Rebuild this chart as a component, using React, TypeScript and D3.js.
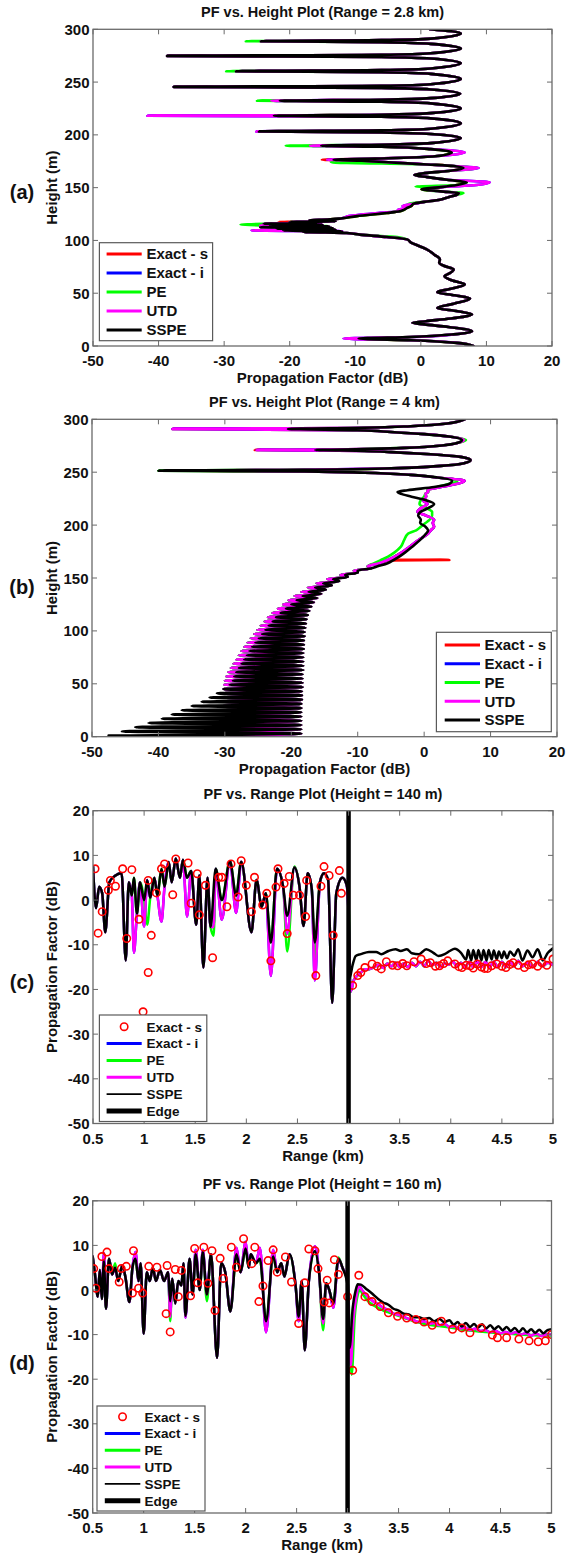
import React from "react";
import * as d3 from "d3";

// (a) PF vs. Height, Range = 2.8 km.  points are [height (m), PF (dB)]
const aSSPE = [
  [0, 8], [3, 5.5], [5.5, -1.5], [7, -9.5], [8.5, -1.5], [11, 5], [14, 7.8], [18, 4.2], [20.5, 0.5], [22, -1.3],
  [23.5, 0.8], [26, 4.5], [30, 7.8], [33, 5.6], [36, 2.5], [40, 5], [45, 7.5], [48, 5.2], [51, 2.5], [54, 4.4],
  [58.3, 6.7], [62, 4.8], [66, 3.6], [69, 4.4], [72.5, 5], [76, 3.5], [78.8, 2.8], [82, 2.9], [86.7, 2], [91.6, 0.9],
  [94.5, -0.2], [98, -1.5], [101, -2.1], [103.3, -5.2], [105.5, -9.3], [107, -11.3], [108, -18], [108.7, -12],
  [109.5, -21], [110.3, -13], [111, -22], [111.8, -13.5], [112.6, -24.5], [113.4, -14], [114.2, -23], [115, -15],
  [115.8, -24], [116.6, -16], [117.4, -20], [118.2, -13], [119, -17], [119.7, -14.3], [121, -12], [123, -9.8],
  [126, -5.2], [127.6, -3.2], [129, -2.6], [130.8, -2.1], [132.5, -1.5], [134.8, -1.1], [136.5, 0.5], [138.6, 2.9],
  [141, 4.2], [143.3, 5.5], [145, 5.8], [146.5, 3], [148.6, 0.1], [150.5, 3], [152.5, 5.5], [155, 7], [157.5, 4],
  [160, 1], [162, -1], [164, 1], [166, 4.5], [168.6, 6.5], [170.5, 5], [172, 1], [174, -5], [175.5, -9],
  [176.5, -13.3], [177.5, -7], [178.5, -1.5], [180, 2.5], [183.4, 4.7], [186.5, 1.5], [188.7, -6], [189.7, -15.2],
  [190.7, -6], [192.2, 1.5], [197, 6.1],
  [200.8, 1.5], [202.3, -6], [203.3, -24.7], [204.3, -6], [205.8, 1.5], [211, 6.1],
  [215.6, 1.5], [217.1, -6], [218.1, -22.4], [219.1, -6], [220.6, 1.5], [225, 6.1],
  [229.8, 1.5], [231.3, -6], [232.3, -21.5], [233.3, -6], [234.8, 1.5], [239, 6],
  [243, 1.5], [244.5, -6], [245.5, -37.7], [246.5, -6], [248, 1.5], [253, 6.1],
  [257.8, 1.5], [259.3, -6], [260.3, -28.2], [261.3, -6], [262.8, 1.5], [268, 6.1],
  [272.3, 1.5], [273.8, -6], [274.8, -38.7], [275.8, -6], [277.3, 1.5], [281.8, 6.1],
  [286.2, 1.5], [287.7, -6], [288.7, -24.4], [289.7, -6], [291.2, 1.5], [296, 6.1], [300, 1.4],
];
// where the other methods differ from SSPE
const aPEChanges = [
  [288.7, -26.7], [260.3, -29.7], [232.3, -25], [189.7, -20.6], [174, -13.7], [168.6, 8.5],
  [151, -0.8], [145, 6.5], [134.8, -1.9], [115, -27.5], [103.3, -3.6],
];
const aUTDChanges = [
  [232.3, -22.8], [218.1, -41.7], [203.3, -25.1], [189.7, -16.9], [183.4, 6.7], [176.5, -14.3],
  [168.6, 8.8], [155, 10.5], [152.5, 8.5], [148.6, 0.8], [132.5, -2.8], [129, -3.5], [126, -6.5],
  [123, -11], [116.6, -19], [114.2, -24.5], [109.5, -25.8], [7, -11.8],
];
const aExactSChanges = [[176.5, -15.1], [117.4, -21.7]];

// (b) PF vs. Height, Range = 4 km
const bSSPE = [
  [1, -47.5], [3, -18.5], [5, -45.5], [7, -18.5], [9, -43.5], [11, -18.5], [13, -41.5], [15, -18.5],
  [17, -39.5], [19, -18.5], [21, -38], [23, -18.5], [25, -36.5], [27, -18.5], [29, -35], [31, -18.5],
  [33, -33.5], [35, -18.4], [37, -32.3], [39, -18.4], [41, -31.2], [43, -18.4], [45, -30.2], [47, -18.3],
  [49, -29.3], [51, -18.3], [53, -28.8], [55, -18.3], [57, -28.6], [59, -18.3], [61, -28.3], [63, -18.2],
  [65, -27.9], [67, -18.2], [69, -27.5], [71, -18.2], [73, -27.1], [75, -18.2], [77, -26.7], [79, -18.2],
  [81, -26.3], [83, -18.1], [85, -25.9], [87, -18.1], [89, -25.4], [91, -18.1], [93, -24.9], [95, -18],
  [97, -24.4], [99, -18], [101, -23.9], [103, -17.9], [105, -23.4], [107, -17.8], [109, -22.8], [111, -17.7],
  [113, -22.3], [115, -17.5], [117, -21.6], [119, -17.3], [121, -20.8], [123, -17], [125, -20], [127, -16.6],
  [129, -19.2], [131, -16.1], [133, -18.3], [135, -15.5], [137, -17.4], [139, -14.8], [141, -16.4], [143, -13.9],
  [145, -15.2], [147, -12.8], [149, -13.7], [151, -11.5], [153, -11.9], [155, -10], [157, -10], [159, -8],
  [161, -7], [164, -5.5], [167, -4.6], [170, -3.8], [174, -2.9], [179.6, -1.8], [186, -0.6], [192, 0.3],
  [195, 0.6], [198.5, 0.2], [202, -0.6], [205, -0.5], [209, -0.9], [212.7, -0.5], [216, 0.6], [220, 1.5],
  [223.5, 0.3], [226.9, -1.9], [229.5, -3.5], [231.3, -4], [233, -2.5], [236, 1.5], [239, 3.8], [242, 4.2],
  [245, 2], [247.5, -2], [249.5, -9], [250.7, -18], [251.5, -40], [252.3, -18], [253.5, -6], [256, 2.5],
  [258.5, 6], [261.5, 7], [264.5, 5.5], [267, 1], [269, -5], [270.2, -9], [271, -16.4], [271.8, -9],
  [273, -3], [275.5, 3], [278, 5.2], [280.5, 5.7], [283.5, 4], [286, 0], [288, -5], [289.7, -10],
  [290.9, -20.5], [292, -9], [293.5, -2], [296, 3.5], [300, 6.1],
];
const bUTDNulls = [
  [1, -29], [5, -29.5], [9, -30], [13, -30], [17, -30], [21, -30.2], [25, -30.2], [29, -30.3], [33, -30.3],
  [37, -30.3], [41, -30.3], [45, -30.2], [49, -30.1], [53, -30], [57, -29.8], [61, -29.5], [65, -29.1],
  [69, -28.7], [73, -28.3], [77, -27.9], [81, -27.5], [85, -27.1], [89, -26.6], [93, -26.1], [97, -25.6],
  [101, -25.1], [105, -24.6], [109, -24], [113, -23.5], [117, -22.8], [121, -22], [125, -21.2], [129, -20.4],
  [133, -19.5], [137, -18.5], [141, -17.5], [145, -16.2], [149, -14.6], [153, -12.6], [157, -10.6],
];
const bUTDChanges = [
  [290.9, -37.9], [271, -25.2], [251.5, -31.7], [280.5, 6], [242, 6.1], [239, 5], [236, 2.5], [233, 0.5],
  [231.3, 0.6], [229.5, 0.2], [226.9, 0.3], [223.5, -0.2], [220, 0.5], [216, -0.5], [212.7, -1], [209, 0.3],
  [205, 1.5], [202, 1.3], [198.5, 1.5], [195, 1], [192, 0.6], [186, -0.8], [179.6, -2.2], [174, -3.4],
  [170, -4.5], [167, -5.5], [164, -6.8], [161, -8.5],
];
const bPEChanges = [
  [280.5, 6.3], [242, 5], [236, 2], [233, 0.5], [231.3, 0.6], [229.5, 0.2], [226.9, 0], [223.5, -0.5],
  [220, -0.7], [216, 0.3], [212.7, 1.2], [209, 1.2], [205, 0.8], [202, 0.2], [198.5, -0.5], [195, -1.2],
  [192, -2.4], [186, -3], [179.6, -3.5], [174, -4.5], [170, -5.5], [167, -6.5], [164, -7.5], [161, -8.5],
];
const bExactSChanges = [[271, -25.5], [251.5, -34], [166.6, -5.3], [167, 3.8], [167.4, -5.1]];

// (c) PF vs. Range, Height = 140 m.  points are [range (km), PF (dB)]
const cSSPE = [
  [0.5, 7.5], [0.53, -1.8], [0.56, 3], [0.59, 1.5], [0.62, -7.2], [0.66, 4], [0.72, 5.5], [0.78, 6],
  [0.82, -13.5], [0.85, 4], [0.88, 1], [0.9, 5], [0.93, -3], [0.96, 4], [1, 0], [1.03, 4.5], [1.06, 0.5],
  [1.1, 5], [1.13, 1], [1.17, 7], [1.2, 3], [1.24, 8.5], [1.27, 4], [1.31, 9.3], [1.35, 5], [1.38, 9],
  [1.42, 5], [1.46, 6.5], [1.51, -5.5], [1.54, 5.5], [1.58, -15.1], [1.62, 5], [1.65, -6], [1.7, 7],
  [1.76, 0], [1.84, 8.7], [1.9, 1], [1.95, 8.6], [2.05, -7.2], [2.1, 4.5], [2.15, -1.5], [2.19, 1.5],
  [2.24, -9.5], [2.3, 7], [2.36, 3], [2.4, -3.5], [2.47, 7.3], [2.52, 3], [2.56, -5.8], [2.6, 6],
  [2.64, 2.5], [2.67, -9.5], [2.72, 4], [2.76, 6], [2.8, 4.5], [2.84, -23], [2.88, 1.5], [2.94, 5],
  [2.98, 3.5], [3, 0],
  [3.01, -17.5], [3.04, -14.5], [3.07, -12.5], [3.12, -12.1], [3.2, -11.6], [3.27, -11.6], [3.32, -12.1],
  [3.39, -11.4], [3.46, -11], [3.51, -11.4], [3.57, -11], [3.62, -11.9], [3.69, -12.1], [3.76, -11],
  [3.83, -11.8], [3.88, -12.5], [3.94, -12.1], [3.99, -11.4], [4.04, -10.9], [4.1, -11.8], [4.15, -13.3],
  [4.17, -11.2], [4.2, -13.5], [4.22, -11.2], [4.25, -13.5], [4.27, -11.2], [4.3, -13.5], [4.32, -11.2],
  [4.35, -13.5], [4.37, -11.2], [4.4, -13.3], [4.42, -11.3], [4.45, -13.3], [4.47, -11.5], [4.5, -13],
  [4.52, -11.5], [4.55, -13], [4.58, -11.5], [4.62, -12.5], [4.66, -11], [4.7, -13.5], [4.75, -11.3],
  [4.8, -12.8], [4.85, -11], [4.9, -13.5], [4.95, -11.8], [5, -10.8],
];
const cPEChanges = [[1.03, -5.5], [1.68, -8], [2.4, -11.5], [2.47, 7.5], [2.67, -13]];
const cUTDChanges = [
  [0.9, -11.8], [1, -5.9], [1.17, -4.8], [1.42, -3.7], [1.68, -6], [1.76, -4.4], [1.9, -2.9],
  [2.24, -17], [2.4, -7.5], [2.67, -18], [3, -3],
];
const cUTDPost = [
  [3.02, -20.5], [3.05, -18], [3.08, -17], [3.12, -16.2], [3.16, -15.5], [3.2, -15.5], [3.25, -15],
  [3.3, -14.5], [3.34, -15.2], [3.38, -14.2], [3.42, -14.8], [3.46, -14], [3.5, -15], [3.54, -14.2],
  [3.58, -15], [3.62, -14], [3.66, -14.8], [3.7, -13.8], [3.74, -14.8], [3.78, -13.6], [3.82, -14.6],
  [3.86, -14], [3.9, -15], [3.94, -14.2], [3.98, -14.5], [4.02, -13.8], [4.06, -14.8], [4.1, -14],
  [4.14, -15], [4.18, -13.8], [4.22, -15], [4.26, -13.8], [4.3, -15], [4.34, -13.8], [4.38, -15],
  [4.42, -13.8], [4.46, -15], [4.5, -13.8], [4.54, -15], [4.58, -13.8], [4.62, -14.8], [4.66, -13.6],
  [4.7, -14.8], [4.75, -14], [4.8, -15], [4.85, -13.8], [4.9, -14.8], [4.95, -14], [5, -14.5],
];
const cExactS = [
  [0.52, 7], [0.55, -7.4], [0.59, -2.6], [0.65, 2.2], [0.67, 4.4], [0.72, 3.1], [0.79, 7], [0.83, -8.6],
  [0.88, 6.8], [0.95, -4.3], [0.99, -25], [1.04, -16.2], [1.04, 4.4], [1.07, -7.9], [1.12, 1.6], [1.17, 7],
  [1.2, 8.1], [1.28, 1.2], [1.31, 9.2], [1.43, 8.3], [1.46, -0.7], [1.52, 5.9], [1.54, -3.3], [1.6, 3.3],
  [1.67, -12.9], [1.73, 5.1], [1.76, 5.1], [1.81, -1.5], [1.85, 8.1], [1.92, 0.7], [1.95, 8.8], [2, 3.3],
  [2.05, -2.6], [2.08, 5.1], [2.16, -1.1], [2.2, 1.5], [2.24, -13.6], [2.29, 2.9], [2.31, 7], [2.37, 3.7],
  [2.4, -7.5], [2.42, 5.3], [2.46, 1.1], [2.52, 1.1], [2.58, -3.7], [2.59, 4.4], [2.68, -16.9], [2.73, 3.1],
  [2.76, 7.5], [2.81, 5.5], [2.85, -7.9], [2.91, 6.6], [2.93, 1.5],
  [3.04, -19.1], [3.09, -16.9], [3.12, -16.2], [3.16, -15.1], [3.23, -14.3], [3.28, -14.8], [3.32, -15.4],
  [3.37, -13.8], [3.43, -14.6], [3.48, -14.7], [3.53, -14.2], [3.57, -14.7], [3.64, -13.8], [3.71, -13.2],
  [3.76, -14.2], [3.8, -14], [3.85, -14.8], [3.89, -14.7], [3.93, -14.2], [3.97, -13.6], [4.04, -14.3],
  [4.08, -14.9], [4.11, -15.1], [4.15, -14.6], [4.19, -14.7], [4.22, -15.2], [4.26, -14.3], [4.3, -15],
  [4.33, -15.3], [4.36, -15.3], [4.4, -14.7], [4.45, -14.3], [4.5, -14.8], [4.54, -15.1], [4.58, -14.4],
  [4.61, -14], [4.66, -14.6], [4.72, -15.1], [4.76, -14.5], [4.8, -14.3], [4.85, -14.8], [4.89, -14],
  [4.94, -14.6], [5, -13.2],
];

// (d) PF vs. Range, Height = 160 m
const dSSPE = [
  [0.5, 7.5], [0.52, 4], [0.55, -1.5], [0.57, 4.5], [0.59, -2], [0.61, 6.5], [0.63, -4.2], [0.66, 7],
  [0.69, 3.5], [0.72, 5], [0.75, 2], [0.79, 5.5], [0.82, 3], [0.86, -2.7], [0.89, 5], [0.92, 7], [0.95, 2],
  [0.97, 6], [1, -9.8], [1.03, 4], [1.06, 2], [1.09, 5], [1.12, 2], [1.16, 4.5], [1.2, 2], [1.24, 4],
  [1.26, -2.5], [1.28, 2.5], [1.31, -3], [1.34, 2], [1.37, 1], [1.39, 6], [1.41, -5.8], [1.45, 7],
  [1.48, -1], [1.51, 8], [1.55, 0], [1.58, 8.5], [1.62, -1], [1.66, 8], [1.72, -15.2], [1.76, 6], [1.8, 4],
  [1.85, -4.8], [1.91, 8], [1.95, 4], [2, 9.3], [2.03, 5], [2.05, 8], [2.1, 6], [2.14, 7], [2.2, -7],
  [2.27, 7.5], [2.31, 4], [2.35, 6], [2.38, 3], [2.43, 8], [2.49, 1], [2.52, -6], [2.55, 2], [2.58, -13.5],
  [2.62, 2], [2.68, 8.7], [2.72, 4], [2.76, -6.5], [2.79, 1.5], [2.82, 0], [2.86, -3], [2.91, 7], [2.95, 5],
  [3, 1],
  [3.02, -13], [3.05, -4], [3.08, 0], [3.1, 1.3], [3.13, 1.2], [3.18, 0.3], [3.24, -0.8], [3.3, -2],
  [3.35, -2.8], [3.4, -3.3], [3.45, -4.2], [3.5, -4.6], [3.55, -5.3], [3.6, -5.5], [3.65, -6.1], [3.7, -6.1],
  [3.75, -6.5], [3.8, -6.3], [3.85, -7], [3.9, -6.5], [3.95, -7.2], [4, -6.8], [4.04, -7.8], [4.08, -7.2],
  [4.12, -8.2], [4.16, -7.4], [4.2, -8.3], [4.24, -7.6], [4.28, -8.4], [4.32, -7.7], [4.36, -8.6], [4.4, -7.9],
  [4.44, -8.8], [4.48, -8.1], [4.52, -9], [4.56, -8.3], [4.6, -9.2], [4.64, -8.5], [4.68, -9.4], [4.72, -8.6],
  [4.76, -9.5], [4.8, -8.8], [4.84, -9.6], [4.88, -8.9], [4.92, -9.7], [4.96, -9], [5, -8.8],
];
const dPEChanges = [[0.72, 6], [1.26, -7], [1.62, -2.5], [2.76, -9], [2.91, 7.3], [3, 2]];
const dUTDChanges = [
  [0.61, 8.3], [0.92, 8.5], [1.26, -6], [1.41, -6.2], [1.51, 9], [1.58, 9], [1.91, 9.5], [2, 10.8],
  [2.14, 9.5], [2.2, -9.5], [2.27, 9], [2.52, -7], [2.68, 9.8], [2.76, -7.5], [2.86, -4], [3, 2],
];
const dUTDPost = [
  [3.03, -17], [3.06, -6], [3.09, -1], [3.11, 1], [3.14, 0], [3.2, -1.5], [3.25, -2.5], [3.3, -3.2],
  [3.35, -4], [3.4, -4.5], [3.45, -5.3], [3.5, -5.6], [3.55, -6], [3.6, -6.5], [3.65, -6.8], [3.7, -7.2],
  [3.75, -7], [3.8, -7.6], [3.85, -7.4], [3.9, -7.9], [3.95, -7.6], [4, -8.3], [4.05, -8.1], [4.1, -8.7],
  [4.15, -8.4], [4.2, -9], [4.25, -8.7], [4.3, -9.2], [4.35, -9], [4.4, -9.5], [4.45, -9.2], [4.5, -9.7],
  [4.55, -9.4], [4.6, -9.8], [4.65, -9.5], [4.7, -10], [4.75, -9.7], [4.8, -10.2], [4.85, -9.8], [4.9, -10.3],
  [4.95, -10], [5, -10],
];
const dPEPost = [
  [3.04, -19], [3.07, -6], [3.1, -1], [3.12, 0], [3.15, -1], [3.2, -2.5], [3.25, -3.4], [3.3, -4],
  [3.35, -4.6], [3.4, -5], [3.5, -5.8], [3.6, -6.6], [3.7, -7.3], [3.8, -7.8], [3.9, -8.1], [4, -8.4],
  [4.1, -8.8], [4.2, -9.1], [4.3, -9.3], [4.4, -9.5], [4.5, -9.7], [4.6, -9.8], [4.7, -10], [4.8, -10.1],
  [4.9, -10.2], [5, -10.2],
];
const dExactS = [
  [0.51, 4.8], [0.53, 0.4], [0.59, 7.5], [0.64, 8.5], [0.66, 4.8], [0.76, 1.8], [0.78, 4.8], [0.83, 5.3],
  [0.89, -0.7], [0.9, 8.8], [0.95, 0.4], [0.99, -0.7], [1.05, 5.3], [1.13, 5.1], [1.22, -5.3], [1.23, 5.5],
  [1.26, -9.4], [1.31, 4.6], [1.34, -1.5], [1.37, 4.4], [1.46, -1.3], [1.5, 9.3], [1.53, 1.6], [1.59, 9.6],
  [1.63, 1.5], [1.67, 8.8], [1.7, -4.6], [1.75, 7.1], [1.78, 2.6], [1.86, 9.6], [1.91, 5.1], [1.98, 11.5],
  [2.06, 5.9], [2.09, 9.6], [2.13, -2.6], [2.17, 0.9], [2.22, 6.6], [2.27, 9], [2.31, 4], [2.39, 7.4],
  [2.45, 1.8], [2.52, -7.5], [2.58, 1.6], [2.62, 9.2], [2.68, 8.8], [2.71, 4.8], [2.77, -2.7], [2.8, 2.2],
  [2.82, -2.9], [2.87, 6.8], [2.91, 3.5], [3, -1.5], [3.05, -18], [3.11, 3.3], [3.17, -1.5], [3.24, -2.6],
  [3.32, -3.7], [3.4, -5.1], [3.49, -5.9], [3.58, -6.3], [3.67, -6.6], [3.75, -7.2], [3.83, -7.9], [3.92, -7],
  [4.03, -8.8], [4.12, -8.5], [4.2, -9.6], [4.31, -8.5], [4.42, -10.1], [4.47, -10.7], [4.56, -10.7],
  [4.68, -11], [4.78, -11.4], [4.87, -11.6], [4.94, -11.4], [5, -10],
];

const heightTicks = [0, 50, 100, 150, 200, 250, 300];
const pfTicks = [-50, -40, -30, -20, -10, 0, 10, 20];
const rangeTicks = [0.5, 1, 1.5, 2, 2.5, 3, 3.5, 4, 4.5, 5];
const edgeRange = 3;

const FONT = "'Liberation Sans', Arial, Helvetica, sans-serif";
const RED = "#ff0000", BLUE = "#0000ff", GREEN = "#00ff00", MAGENTA = "#ff00ff", BLACK = "#000000";

// replace / insert the points where a method departs from the reference curve
const merge = (base, changes) => {
  const m = new Map(base.map((p) => [p[0], p[1]]));
  changes.forEach(([k, v]) => m.set(k, v));
  return Array.from(m).sort((p, q) => p[0] - q[0]);
};
const upTo = (pts, k) => pts.filter((p) => p[0] <= k);

function Legend({ box, row0, step, lineX0, lineX1, textX, font, items }) {
  return (
    <g>
      <rect x={box[0]} y={box[1]} width={box[2]} height={box[3]} fill="#fff" stroke="#5a5a5a" strokeWidth={1.2} />
      {items.map((it, i) => {
        const cy = row0 + i * step;
        return (
          <g key={it.name}>
            {it.circle ? (
              <circle cx={(lineX0 + lineX1) / 2} cy={cy} r={3.7} fill="none" stroke={it.color} strokeWidth={1.6} />
            ) : (
              <line x1={lineX0} x2={lineX1} y1={cy} y2={cy} stroke={it.color} strokeWidth={it.width} />
            )}
            <text x={textX} y={cy + font * 0.36} fontSize={font} fontWeight="bold" fill="#111">
              {it.name}
            </text>
          </g>
        );
      })}
    </g>
  );
}

function Panel(props) {
  const { id, box, vertical, xDomain, yDomain, xTicks, yTicks, title, xLabel, yLabel, tag, tagY, lines, circles, edge, legend } = props;
  const x = d3.scaleLinear().domain(xDomain).range([box.l, box.r]);
  const y = d3.scaleLinear().domain(yDomain).range([box.b, box.t]);
  const line = vertical
    ? d3.line().x((d) => x(d[1])).y((d) => y(d[0])).curve(d3.curveMonotoneY)
    : d3.line().x((d) => x(d[0])).y((d) => y(d[1])).curve(d3.curveMonotoneX);
  const order = (pts) => (vertical ? [...pts].sort((p, q) => q[0] - p[0]) : pts);
  const axis = "#6a6a6a";
  const tk = 5;
  const midX = (box.l + box.r) / 2;
  const midY = (box.t + box.b) / 2;

  return (
    <g fontFamily={FONT}>
      <defs>
        <clipPath id={id}>
          <rect x={box.l} y={box.t} width={box.r - box.l} height={box.b - box.t} />
        </clipPath>
      </defs>
      <g clipPath={`url(#${id})`}>
        {lines.map((s, i) => (
          <path key={i} d={line(order(s.pts))} fill="none" stroke={s.color} strokeWidth={s.width}
            strokeLinejoin="round" strokeLinecap="round" />
        ))}
        {circles && circles.map((c, i) => (
          <circle key={i} cx={x(c[0])} cy={y(c[1])} r={3.7} fill="none" stroke={RED} strokeWidth={1.6} />
        ))}
        {edge != null && (
          <line x1={x(edge)} x2={x(edge)} y1={box.t} y2={box.b} stroke={BLACK} strokeWidth={4.5} />
        )}
      </g>
      <rect x={box.l} y={box.t} width={box.r - box.l} height={box.b - box.t} fill="none" stroke={axis} strokeWidth={1.3} />
      {xTicks.map((v) => (
        <g key={"x" + v}>
          <line x1={x(v)} x2={x(v)} y1={box.b} y2={box.b - tk} stroke={axis} />
          <line x1={x(v)} x2={x(v)} y1={box.t} y2={box.t + tk} stroke={axis} />
          <text x={x(v)} y={box.b + 20} textAnchor="middle" fontSize={15} fontWeight="bold" fill="#111">{String(v)}</text>
        </g>
      ))}
      {yTicks.map((v) => (
        <g key={"y" + v}>
          <line x1={box.l} x2={box.l + tk} y1={y(v)} y2={y(v)} stroke={axis} />
          <line x1={box.r} x2={box.r - tk} y1={y(v)} y2={y(v)} stroke={axis} />
          <text x={box.l - 3.5} y={y(v) + 5.5} textAnchor="end" fontSize={15} fontWeight="bold" fill="#111">{String(v)}</text>
        </g>
      ))}
      <text x={midX} y={box.t - 12} textAnchor="middle" fontSize={14.5} fontWeight="bold" fill="#111">{title}</text>
      <text x={midX} y={box.b + 37} textAnchor="middle" fontSize={15} fontWeight="bold" fill="#111">{xLabel}</text>
      <text transform={`translate(57,${midY}) rotate(-90)`} textAnchor="middle" fontSize={15} fontWeight="bold" fill="#111">{yLabel}</text>
      <text x={22} y={tagY} textAnchor="middle" fontSize={20} fontWeight="bold" fill="#111">{tag}</text>
      <Legend {...legend} />
    </g>
  );
}

const heightItems = [
  { name: "Exact - s", color: RED, width: 3 },
  { name: "Exact - i", color: BLUE, width: 3 },
  { name: "PE", color: GREEN, width: 3 },
  { name: "UTD", color: MAGENTA, width: 3 },
  { name: "SSPE", color: BLACK, width: 3 },
];
const rangeItems = [
  { name: "Exact - s", color: RED, circle: true },
  { name: "Exact - i", color: BLUE, width: 3 },
  { name: "PE", color: GREEN, width: 3 },
  { name: "UTD", color: MAGENTA, width: 3 },
  { name: "SSPE", color: BLACK, width: 1.6 },
  { name: "Edge", color: BLACK, width: 5 },
];

export default function App() {
  const W = 2.6;
  const aUTD = merge(aSSPE, aUTDChanges);
  const aLines = [
    { color: RED, width: W, pts: merge(aSSPE, aExactSChanges) },
    { color: BLUE, width: W, pts: aUTD },
    { color: GREEN, width: W, pts: merge(aSSPE, aPEChanges) },
    { color: MAGENTA, width: W, pts: aUTD },
    { color: BLACK, width: W, pts: aSSPE },
  ];
  const bUTD = merge(bSSPE, [...bUTDNulls, ...bUTDChanges]);
  const bLines = [
    { color: RED, width: W, pts: merge(bSSPE, [...bUTDNulls, ...bUTDChanges, ...bExactSChanges]) },
    { color: BLUE, width: W, pts: bUTD },
    { color: GREEN, width: W, pts: merge(bSSPE, [...bUTDNulls, ...bPEChanges]) },
    { color: MAGENTA, width: W, pts: bUTD },
    { color: BLACK, width: W, pts: bSSPE },
  ];
  const cUTD = [...merge(upTo(cSSPE, edgeRange), cUTDChanges), ...cUTDPost];
  const cLines = [
    { color: BLUE, width: 2.5, pts: cUTD },
    { color: GREEN, width: 2.5, pts: [...merge(upTo(cSSPE, edgeRange), cPEChanges), ...cUTDPost] },
    { color: MAGENTA, width: 2.5, pts: cUTD },
    { color: BLACK, width: 2.5, pts: cSSPE },
  ];
  const dUTD = [...merge(upTo(dSSPE, edgeRange), dUTDChanges), ...dUTDPost];
  const dLines = [
    { color: BLUE, width: 2.5, pts: dUTD },
    { color: GREEN, width: 2.5, pts: [...merge(upTo(dSSPE, edgeRange), dPEChanges), ...dPEPost] },
    { color: MAGENTA, width: 2.5, pts: dUTD },
    { color: BLACK, width: 2.5, pts: dSSPE },
  ];

  return (
    <div style={{ position: "absolute", left: 0, top: 0 }}>
      <svg width={567} height={1554} style={{ display: "block", background: "#fff" }}>
        <Panel id="pa" box={{ l: 93, t: 29.3, r: 552, b: 346 }} vertical xDomain={[-50, 20]} yDomain={[0, 300]}
          xTicks={pfTicks} yTicks={heightTicks} title="PF vs. Height Plot (Range = 2.8 km)"
          xLabel="Propagation Factor (dB)" yLabel="Height (m)" tag="(a)" tagY={199} lines={aLines}
          legend={{ box: [99.4, 242.7, 113.2, 98], row0: 254, step: 19, lineX0: 106.6, lineX1: 141.7, textX: 146.4, font: 15, items: heightItems }} />
        <Panel id="pb" box={{ l: 92, t: 419.3, r: 557, b: 736.7 }} vertical xDomain={[-50, 20]} yDomain={[0, 300]}
          xTicks={pfTicks} yTicks={heightTicks} title="PF vs. Height Plot (Range = 4 km)"
          xLabel="Propagation Factor (dB)" yLabel="Height (m)" tag="(b)" tagY={594} lines={bLines}
          legend={{ box: [436.4, 632.3, 114.9, 99.4], row0: 645, step: 18.75, lineX0: 444.7, lineX1: 480, textX: 484.4, font: 15, items: heightItems }} />
        <Panel id="pc" box={{ l: 93, t: 810.7, r: 553, b: 1123.5 }} xDomain={[0.5, 5]} yDomain={[-50, 20]}
          xTicks={rangeTicks} yTicks={pfTicks} title="PF vs. Range Plot (Height = 140 m)"
          xLabel="Range (km)" yLabel="Propagation Factor (dB)" tag="(c)" tagY={989} lines={cLines}
          circles={cExactS} edge={edgeRange}
          legend={{ box: [99.4, 1015, 107.4, 106.5], row0: 1026.7, step: 16.86, lineX0: 106.6, lineX1: 141.7, textX: 146.4, font: 13.5, items: rangeItems }} />
        <Panel id="pd" box={{ l: 92.7, t: 1200.8, r: 551.5, b: 1513 }} xDomain={[0.5, 5]} yDomain={[-50, 20]}
          xTicks={rangeTicks} yTicks={pfTicks} title="PF vs. Range Plot (Height = 160 m)"
          xLabel="Range (km)" yLabel="Propagation Factor (dB)" tag="(d)" tagY={1370} lines={dLines}
          circles={dExactS} edge={edgeRange}
          legend={{ box: [97, 1406, 108, 105], row0: 1416.7, step: 16.8, lineX0: 104.8, lineX1: 140.3, textX: 144.6, font: 13.5, items: rangeItems }} />
      </svg>
    </div>
  );
}
